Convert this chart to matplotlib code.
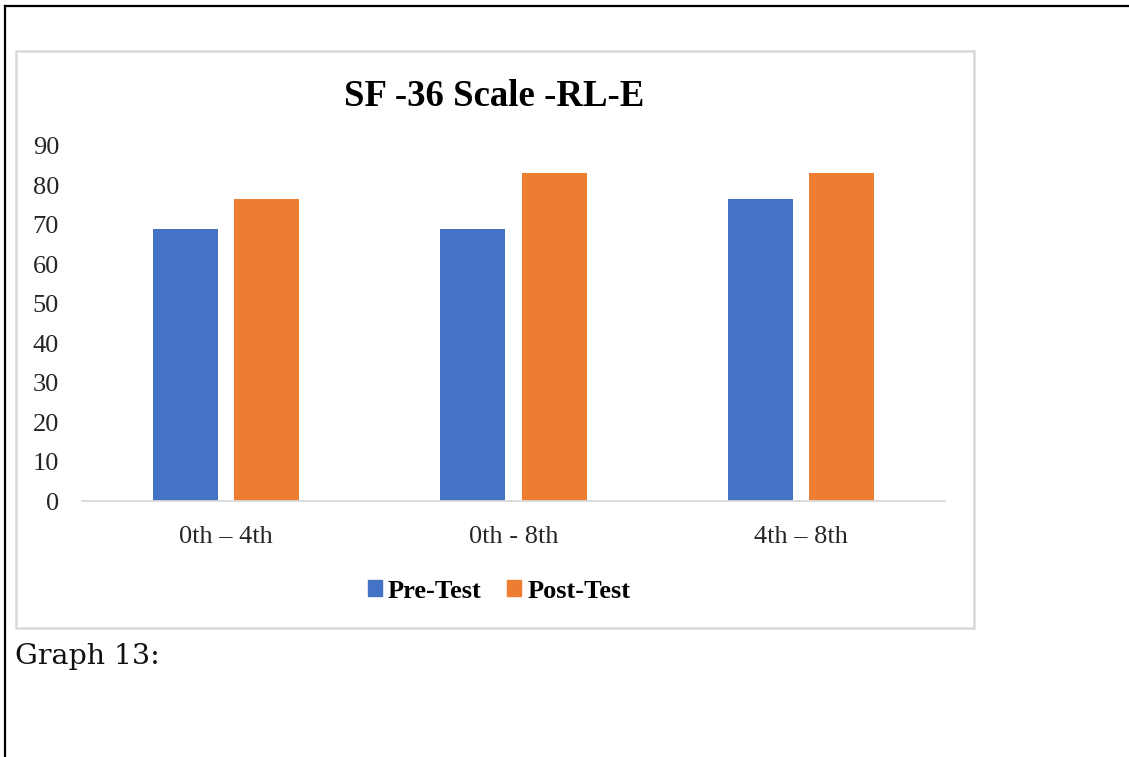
import matplotlib.pyplot as plt
import numpy as np
from matplotlib.lines import Line2D
from matplotlib.patches import Rectangle, Patch

# SF-36 role limitation (emotional) scores per assessment interval
categories = ['0th \u2013 4th', '0th - 8th', '4th \u2013 8th']
pre_test = [68.8, 68.8, 76.5]
post_test = [76.5, 83.0, 83.0]
y_ticks = [0, 10, 20, 30, 40, 50, 60, 70, 80, 90]

BLUE = '#4472C4'
ORANGE = '#ED7D31'
GRID = '#D9D9D9'
SERIF = 'Liberation Serif'

W, H = 1129, 757
fig = plt.figure(figsize=(W / 100, H / 100), dpi=100)
fig.patch.set_facecolor('white')

# page frame: heavy rule at the top and down the left side
fig.add_artist(Line2D([5 / W, 1.0], [1 - 5.7 / H, 1 - 5.7 / H], color='black', lw=1.6))
fig.add_artist(Line2D([5 / W, 5 / W], [0, 1 - 5.7 / H], color='black', lw=1.6))

# chart box
fig.add_artist(Rectangle((15.5 / W, 1 - 627.5 / H), (974 - 15.5) / W, (627.5 - 50.5) / H,
                         fill=False, edgecolor=GRID, lw=1.8))

ax = fig.add_axes([82 / W, 1 - 501.3 / H, (945 - 82) / W, (501.3 - 145.6) / H])

x = np.arange(len(categories))
width = 0.226
offset = 0.1415
ax.bar(x - offset, pre_test, width, color=BLUE, label='Pre-Test')
ax.bar(x + offset, post_test, width, color=ORANGE, label='Post-Test')

ax.set_xlim(-0.5, len(categories) - 0.5)
ax.set_ylim(0, 90)
ax.set_yticks(y_ticks)
ax.set_xticks(x)
ax.set_xticklabels(categories, fontfamily=SERIF, fontsize=19)
for lbl in ax.get_yticklabels():
    lbl.set_fontfamily(SERIF)
    lbl.set_fontsize(19)
ax.tick_params(axis='y', length=0, pad=16.5, colors='#262626')
ax.tick_params(axis='x', length=0, pad=18, colors='#262626')

for side in ['top', 'left', 'right']:
    ax.spines[side].set_visible(False)
ax.spines['bottom'].set_color(GRID)
ax.spines['bottom'].set_linewidth(1.3)

fig.text(494 / W, 1 - 97 / H, 'SF -36 Scale -RL-E', ha='center', va='center',
         fontfamily=SERIF, fontweight='bold', fontsize=26.5)

handles = [Patch(color=BLUE), Patch(color=ORANGE)]
fig.legend(handles, ['Pre-Test', 'Post-Test'], loc='center',
           bbox_to_anchor=(499 / W, 1 - 591 / H), ncol=2, frameon=False,
           prop={'family': SERIF, 'weight': 'bold', 'size': 19},
           handlelength=0.53, handleheight=0.53, handletextpad=0.23,
           columnspacing=0.97, borderpad=0)

fig.text(15 / W, 1 - 664 / H, 'Graph 13:', ha='left', va='baseline',
         fontfamily='DejaVu Serif', fontsize=20.5, color='#111111')

fig.savefig('out.png', dpi=100)
